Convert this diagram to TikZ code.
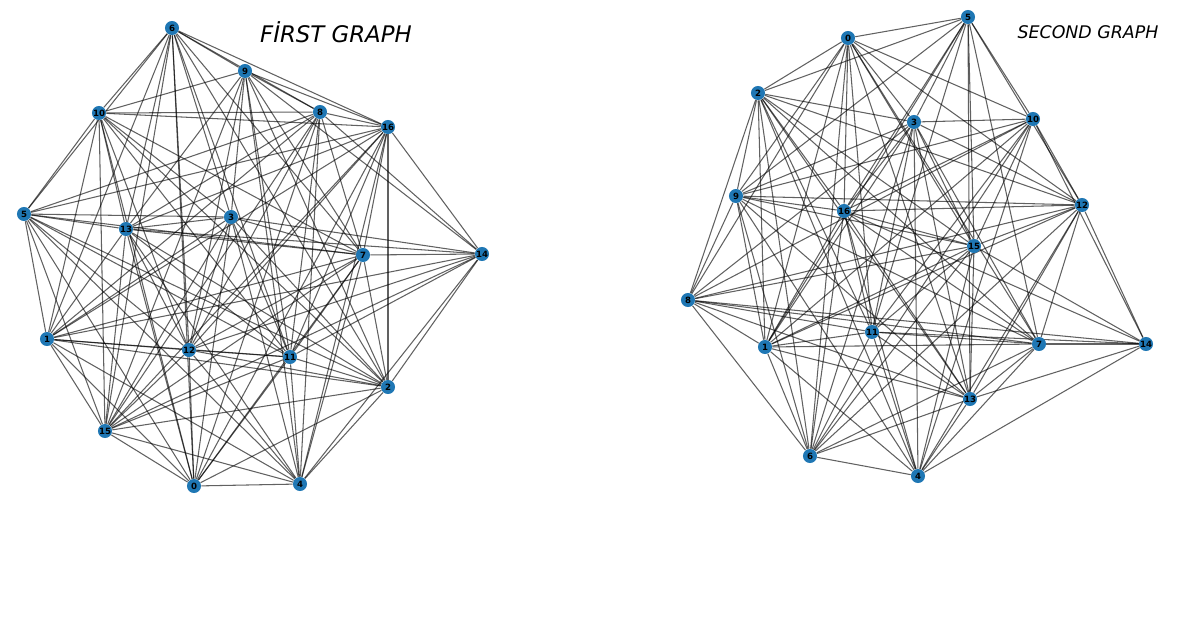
\documentclass[tikz,border=0pt]{standalone}
\usepackage{fontspec}
\usetikzlibrary{backgrounds}
\newfontfamily\titlefont{DejaVu Sans}
\newfontfamily\labelfont{DejaVu Sans}
\definecolor{nodeblue}{HTML}{1F77B4}
\tikzset{
  vtx/.style={circle,fill=nodeblue,inner sep=0pt,minimum size=8pt,
    font=\labelfont\bfseries\fontsize{4.9}{5}\selectfont},
  edge/.style={black,opacity=0.62,line width=0.6pt}
}
\begin{document}
\begin{tikzpicture}[x=0.02cm,y=-0.02cm]
  \useasboundingbox (0,0) rectangle (1199,619);
  % 标题
  \node (t1) at (336,32) {\titlefont\itshape\fontsize{13}{15}\selectfont FİRST GRAPH};
  \node (t2) at (1088,32) {\titlefont\itshape\fontsize{9.9}{12}\selectfont SECOND GRAPH};
  % 第一个图的顶点
  \foreach \n/\x/\y in {0/194/486,1/47/339,2/388/387,3/231/217,4/300/484,
      5/24/214,6/172/28,7/363/255,8/320/112,9/245/71,10/99/113,11/290/357,
      12/189/350,13/126/229,14/482/254,15/105/431,16/388/127}
    \node[vtx] (a\n) at (\x,\y) {\n};
  % 第二个图的顶点
  \foreach \n/\x/\y in {0/848/38,1/765/347,2/758/93,3/914/122,4/918/476,
      5/968/17,6/810/456,7/1039/344,8/688/300,9/736/196,10/1033/119,11/872/332,
      12/1082/205,13/970/399,14/1146/344,15/974/246,16/844/211}
    \node[vtx] (b\n) at (\x,\y) {\n};
  % 第一个图的边
  \begin{pgfonlayer}{background}
  \foreach \i/\j in {6/10,6/5,6/9,6/8,6/16,6/13,6/1,6/12,6/0,6/3,6/11,6/2,6/7,6/15,
      9/10,9/8,9/16,9/14,9/13,9/3,9/12,9/11,9/2,9/4,9/7,9/15,
      10/5,10/1,10/13,10/8,10/16,10/3,10/12,10/11,10/2,10/15,10/7,10/0,
      8/16,8/14,8/5,8/13,8/12,8/11,8/4,8/15,8/7,8/1,8/0,
      16/14,16/7,16/2,16/13,16/5,16/12,16/15,16/0,16/11,16/1,16/4,
      5/1,5/15,5/13,5/3,5/7,5/12,5/11,5/2,5/0,5/4,
      3/13,3/7,3/14,3/12,3/11,3/15,3/0,3/4,3/2,3/1,
      13/7,13/14,13/12,13/11,13/4,13/0,13/15,13/1,13/2,
      7/14,7/2,7/11,7/12,7/4,7/0,7/15,7/1,
      14/2,14/4,14/11,14/12,14/1,14/15,
      1/15,1/0,1/12,1/11,1/2,1/4,
      12/11,12/2,12/0,12/15,12/4,
      11/2,11/4,11/0,11/15,
      2/4,2/0,2/15,
      15/0,15/4,
      0/4}
    \draw[edge] (a\i) -- (a\j);
  % 第二个图的边
  \foreach \i/\j in {0/5,0/2,0/3,0/10,0/16,0/9,0/15,0/11,0/1,0/13,0/7,0/8,0/6,0/12,
      5/2,5/3,5/10,5/12,5/16,5/15,5/11,5/13,5/7,5/9,5/1,
      2/9,2/3,2/16,2/12,2/8,2/1,2/15,2/7,2/13,2/11,2/4,2/6,
      3/10,3/9,3/16,3/15,3/12,3/11,3/7,3/13,3/1,3/6,3/4,3/8,
      10/12,10/9,10/16,10/8,10/15,10/14,10/1,10/11,10/6,10/4,
      9/16,9/12,9/8,9/1,9/15,9/6,9/7,9/13,9/4,
      16/12,16/15,16/11,16/1,16/6,16/4,16/13,16/7,16/14,
      12/15,12/14,12/7,12/8,12/1,12/6,12/4,12/13,
      15/11,15/13,15/8,15/14,15/6,15/4,15/1,
      8/11,8/1,8/6,8/7,8/14,8/13,
      11/1,11/7,11/13,11/6,11/4,11/14,
      1/7,1/6,1/4,1/13,
      7/14,7/13,7/6,7/4,
      14/13,14/4,
      13/6,13/4,
      6/4}
    \draw[edge] (b\i) -- (b\j);
  \end{pgfonlayer}
\end{tikzpicture}
\end{document}
